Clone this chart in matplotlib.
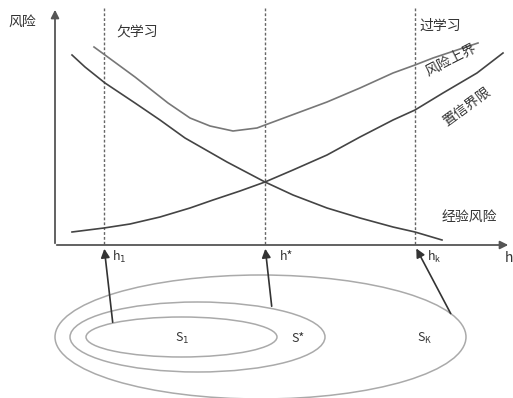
import matplotlib.pyplot as plt
from matplotlib.patches import Ellipse

plt.rcParams['font.family'] = ['Noto Sans CJK SC', 'DejaVu Sans']

# curves in picture pixel coordinates (x right, y down)
emp_x = [72, 85, 105, 135, 160, 185, 227, 265, 293, 327, 360, 393, 415, 442]
emp_y = [55, 67, 83, 103, 120, 138, 162, 182, 195, 208, 218, 227, 232, 240]

conf_x = [72, 104, 130, 160, 190, 213, 240, 265, 293, 327, 360, 393, 415, 443, 477, 503]
conf_y = [232, 228, 224, 217, 208, 200, 191, 182, 170, 155, 137, 120, 110, 93, 73, 53]

upper_x = [94, 105, 135, 168, 190, 210, 233, 257, 265, 300, 327, 360, 393, 415, 433, 478]
upper_y = [47, 55, 77, 103, 118, 126, 131, 128, 125, 112, 102, 88, 73, 65, 58, 43]

h_x = [104, 265, 415]
h_labels = ['h$_1$', 'h*', 'h$_\\mathregular{k}$']
h_label_x = [112, 280, 427]
arrow_from = [(113, 325), (272, 309), (452, 316)]

# nested structures (centre x, centre y, width, height)
ellipses = [(260.5, 337, 411, 124), (197.5, 337, 255, 70), (181.5, 337, 191, 40)]
s_labels = ['S$_1$', 'S*', 'S$_\\mathregular{K}$']
s_label_x = [182, 298, 425]

fig = plt.figure(figsize=(5.13, 3.98), dpi=100)
ax = fig.add_axes([0, 0, 1, 1])
ax.set_xlim(0, 513)
ax.set_ylim(398, 0)
ax.axis('off')

axis_col = '#555555'
# axes with arrows
ax.annotate('', xy=(55, 7), xytext=(55, 246),
            arrowprops=dict(arrowstyle='-|>', color=axis_col, lw=1.3, mutation_scale=12))
ax.annotate('', xy=(511, 245), xytext=(54, 245),
            arrowprops=dict(arrowstyle='-|>', color=axis_col, lw=1.3, mutation_scale=12))

for x in h_x:
    ax.plot([x, x], [8, 245], color='#666666', lw=1, linestyle=(0, (2, 1.5)))

ax.plot(emp_x, emp_y, color='#444444', lw=1.2)
ax.plot(conf_x, conf_y, color='#444444', lw=1.2)
ax.plot(upper_x, upper_y, color='#777777', lw=1.2)

for (cx, cy, w, h) in ellipses:
    ax.add_patch(Ellipse((cx, cy), w, h, fill=False, ec='#aaaaaa', lw=1.1))

for x, (fx, fy) in zip(h_x, arrow_from):
    ax.annotate('', xy=(x, 246), xytext=(fx, fy),
                arrowprops=dict(arrowstyle='-|>', color='#333333', lw=1.2, mutation_scale=13))

for lab, lx in zip(h_labels, h_label_x):
    ax.text(lx, 257, lab, fontsize=9, color='#333333', ha='left', va='center')

for lab, lx in zip(s_labels, s_label_x):
    ax.text(lx, 338, lab, fontsize=9, color='#333333', ha='center', va='center')

ax.text(8, 22, '风险', fontsize=10, color='#333333', ha='left', va='center')
ax.text(116, 32, '欠学习', fontsize=10, color='#333333', ha='left', va='center')
ax.text(419, 26, '过学习', fontsize=10, color='#333333', ha='left', va='center')
ax.text(451, 60, '风险上界', fontsize=10, color='#333333', ha='center', va='center', rotation=27)
ax.text(467, 107, '置信界限', fontsize=10, color='#333333', ha='center', va='center', rotation=36)
ax.text(442, 217, '经验风险', fontsize=10, color='#333333', ha='left', va='center')
ax.text(505, 258, 'h', fontsize=10, color='#333333', ha='left', va='center')

plt.savefig('out.png', dpi=100)
